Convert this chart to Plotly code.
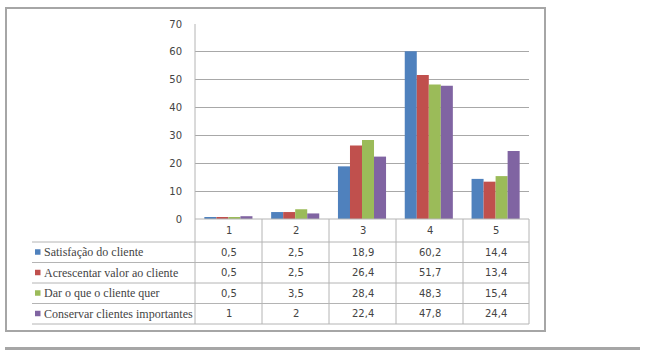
import plotly.graph_objects as go

categories = ["1", "2", "3", "4", "5"]
series_names = [
    "Satisfação do cliente",
    "Acrescentar valor ao cliente",
    "Dar o que o cliente quer",
    "Conservar clientes importantes",
]
series_values = [
    [0.5, 2.5, 18.9, 60.2, 14.4],
    [0.5, 2.5, 26.4, 51.7, 13.4],
    [0.5, 3.5, 28.4, 48.3, 15.4],
    [1, 2, 22.4, 47.8, 24.4],
]
series_labels = [
    ["0,5", "2,5", "18,9", "60,2", "14,4"],
    ["0,5", "2,5", "26,4", "51,7", "13,4"],
    ["0,5", "3,5", "28,4", "48,3", "15,4"],
    ["1", "2", "22,4", "47,8", "24,4"],
]
colors = ["#4F81BD", "#C0504D", "#9BBB59", "#8064A2"]

W, H = 652, 350
PL, PR, PT, PB = 195, 529, 24, 219

def px(x):
    return (x - PL) / (PR - PL)

def py(y):
    return (PB - y) / (PB - PT)

fig = go.Figure()
for name, vals, c in zip(series_names, series_values, colors):
    fig.add_trace(go.Bar(x=categories, y=vals, name=name, marker=dict(color=c, line=dict(width=0))))

shapes = []
annotations = []
line_col = "#B4B4B4"

# outer border
shapes.append(dict(type="rect", xref="paper", yref="paper", x0=px(6), x1=px(545), y0=py(8), y1=py(331),
                   line=dict(color="#A6A6A6", width=2), fillcolor="rgba(0,0,0,0)", layer="below"))
# bottom separator line
shapes.append(dict(type="line", xref="paper", yref="paper", x0=px(5), x1=px(640), y0=py(348.5), y1=py(348.5),
                   line=dict(color="#A6A6A6", width=3)))

# table geometry
col_edges = [195, 262, 329, 396, 463, 529]
row_edges = [219, 242, 262.5, 283, 303.5, 324]
legend_left = 32

for i, yy in enumerate(row_edges):
    x0 = PL if i == 0 else legend_left
    shapes.append(dict(type="line", xref="paper", yref="paper", x0=px(x0), x1=px(PR), y0=py(yy), y1=py(yy),
                       line=dict(color=line_col, width=1)))
for j, xx in enumerate(col_edges):
    y_top = PT if j == 0 else row_edges[0]
    shapes.append(dict(type="line", xref="paper", yref="paper", x0=px(xx), x1=px(xx), y0=py(y_top), y1=py(row_edges[-1]),
                       line=dict(color=line_col, width=1)))

num_font = dict(family="DejaVu Sans", size=10, color="#444444")
lab_font = dict(family="'Liberation Serif', 'Times New Roman', serif", size=12, color="#444444")

for j, cat in enumerate(categories):
    cx = (col_edges[j] + col_edges[j + 1]) / 2
    cy = (row_edges[0] + row_edges[1]) / 2
    annotations.append(dict(x=px(cx), y=py(cy), xref="paper", yref="paper", text=cat, showarrow=False,
                            font=num_font, xanchor="center", yanchor="middle"))

for i, (name, labs, c) in enumerate(zip(series_names, series_labels, colors)):
    cy = (row_edges[i + 1] + row_edges[i + 2]) / 2
    shapes.append(dict(type="rect", xref="paper", yref="paper", x0=px(35), x1=px(40.5), y0=py(cy - 3), y1=py(cy + 2.5),
                       fillcolor=c, line=dict(width=0)))
    annotations.append(dict(x=px(42), y=py(cy), xref="paper", yref="paper", text=name, showarrow=False,
                            font=lab_font, xanchor="left", yanchor="middle"))
    for j, lab in enumerate(labs):
        cx = (col_edges[j] + col_edges[j + 1]) / 2
        annotations.append(dict(x=px(cx), y=py(cy), xref="paper", yref="paper", text=lab, showarrow=False,
                                font=num_font, xanchor="center", yanchor="middle"))

fig.update_layout(
    width=W, height=H,
    margin=dict(l=PL, r=W - PR, t=PT, b=H - PB, pad=0),
    paper_bgcolor="white", plot_bgcolor="white",
    barmode="group", bargap=0.28, bargroupgap=0,
    showlegend=False,
    shapes=shapes, annotations=annotations,
    xaxis=dict(showticklabels=False, showgrid=False, zeroline=False, showline=False, ticks=""),
    yaxis=dict(range=[0, 70], dtick=10, showgrid=True, gridcolor="#A8A8A8", gridwidth=1, zeroline=False,
               showline=False, ticks="", tickfont=dict(family="DejaVu Sans", size=10, color="#444444"),
               ticklabelstandoff=12),
)

fig.write_html("out.html")
